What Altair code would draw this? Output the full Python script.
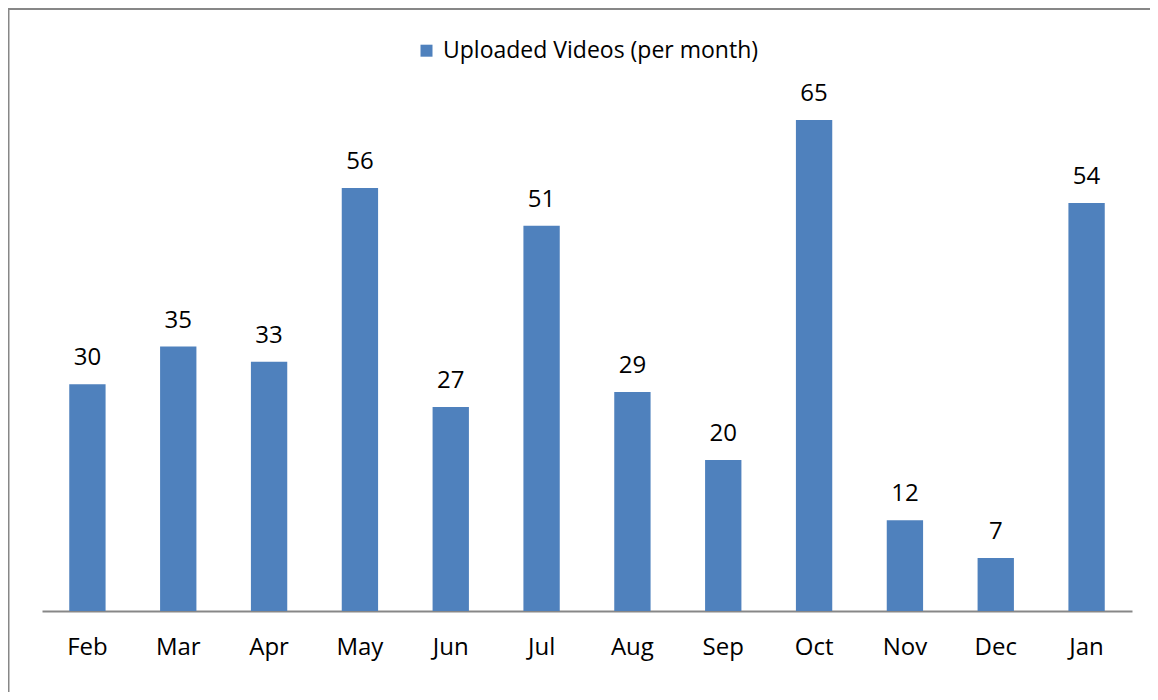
import altair as alt
import pandas as pd

months = ["Feb", "Mar", "Apr", "May", "Jun", "Jul", "Aug", "Sep", "Oct", "Nov", "Dec", "Jan"]
videos = [30, 35, 33, 56, 27, 51, 29, 20, 65, 12, 7, 54]
series_name = "Uploaded Videos (per month)"

df = pd.DataFrame({"month": months, "videos": videos, "series": [series_name] * len(months)})

FONT = "Open Sans"
BAR = "#4F81BD"
GRAY = "#878787"
W, H = 1090, 528.8

x = alt.X("month:N", sort=months,
          scale=alt.Scale(paddingInner=0.6, paddingOuter=0.3),
          axis=alt.Axis(title=None, labelAngle=0, ticks=False, grid=False,
                        domainColor=GRAY, domainWidth=2,
                        labelFont=FONT, labelFontSize=24, labelColor="#000000",
                        labelPadding=24))
y = alt.Y("videos:Q", scale=alt.Scale(domain=[0, 70], nice=False), axis=None)

bars = alt.Chart(df).mark_bar(color=BAR).encode(
    x=x, y=y,
    color=alt.Color("series:N", scale=alt.Scale(range=[BAR]),
                    legend=alt.Legend(title=None, orient="none", legendX=373, legendY=-43,
                                      symbolType="square", symbolSize=144,
                                      symbolStrokeWidth=0, symbolOpacity=1,
                                      labelFont=FONT, labelFontSize=23, labelColor="#000000",
                                      labelOffset=5, labelLimit=0))
)

labels = alt.Chart(df).mark_text(font=FONT, fontSize=24, color="#000000",
                                 baseline="alphabetic", dy=-19).encode(
    x=alt.X("month:N", sort=months), y="videos:Q", text="videos:Q")

frame = alt.Chart(alt.Data(values=[{}])).mark_rect(
    fill=None, stroke=GRAY, strokeWidth=2).encode(
    x=alt.value(-33.5), x2=alt.value(1300), y=alt.value(-73.2), y2=alt.value(800))

chart = alt.layer(frame, bars, labels).properties(
    width=W, height=H,
    background="#ffffff",
    autosize=alt.AutoSizeParams(type="none"),
    padding={"left": 34, "top": 74.2, "right": 18, "bottom": 81},
).configure_view(stroke=None, strokeWidth=0)

chart.save("out.html", embed_options={"renderer": "svg", "actions": False})
